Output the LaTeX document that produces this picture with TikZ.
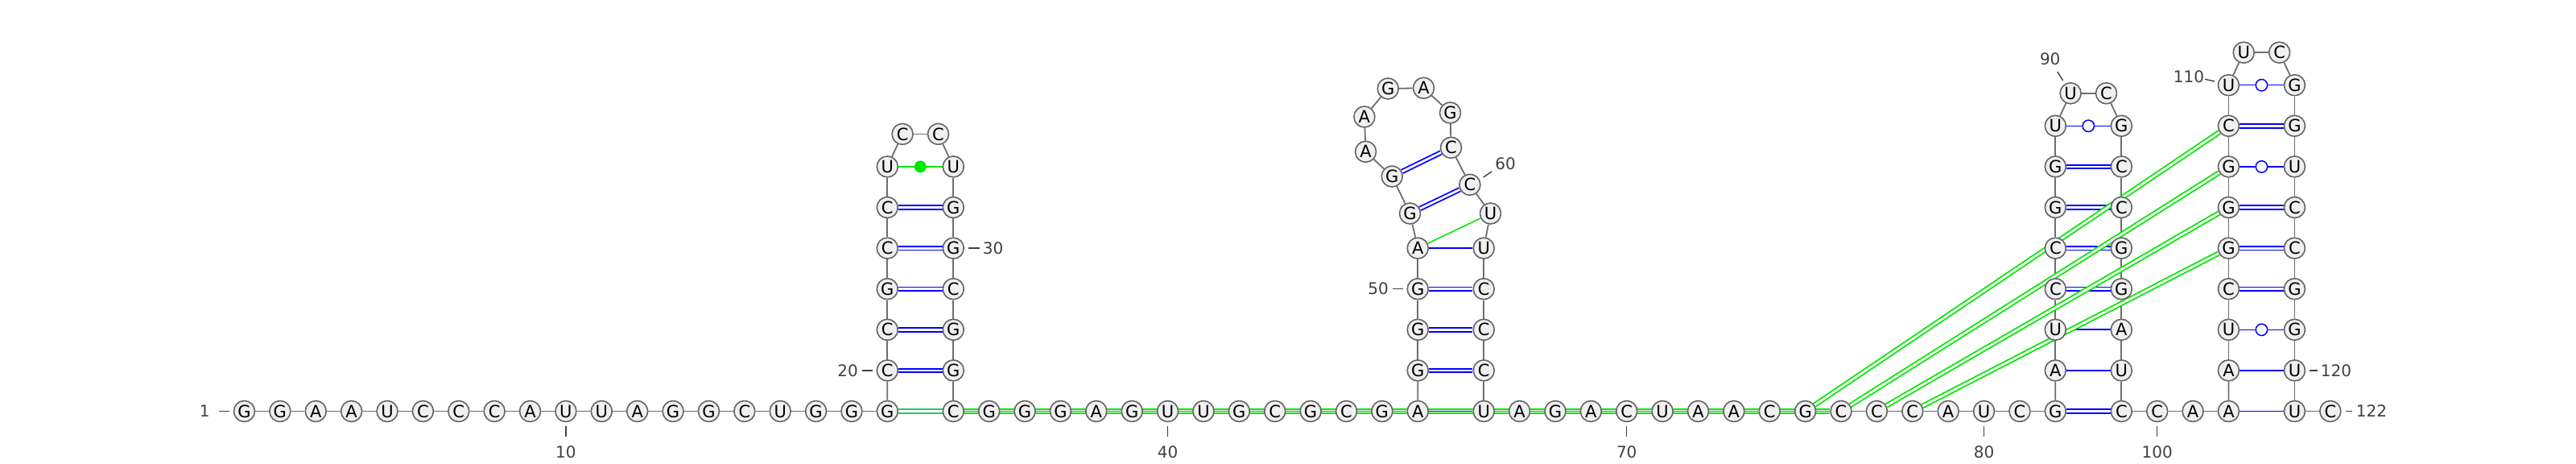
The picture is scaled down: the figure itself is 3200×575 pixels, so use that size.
\documentclass[tikz,border=0pt]{standalone}
\usepackage{fontspec}
\setmainfont{DejaVu Sans}
\pgfdeclarelayer{bg}
\pgfsetlayers{bg,main}
\definecolor{ntline}{RGB}{100,100,100}
\definecolor{ntfill}{RGB}{240,240,240}
\definecolor{bbgray}{RGB}{110,110,110}
\definecolor{lblgray}{RGB}{64,64,64}
\definecolor{pkgreen}{RGB}{0,232,0}
\definecolor{mixgreen}{RGB}{40,200,105}
\definecolor{pblue}{RGB}{0,0,255}
\tikzset{
  nt/.style={circle, draw=ntline, fill=ntfill, line width=0.8pt, minimum size=13pt, inner sep=0pt, font=\fontsize{10.5}{12}\selectfont},
  bb/.style={draw=bbgray, line width=0.9pt},
  wc/.style={draw=pblue, line width=0.9pt, double=white, double distance=1.4pt},
  wcmix/.style={draw=mixgreen, line width=0.9pt, double=white, double distance=1.4pt},
  au/.style={draw=pblue, line width=0.9pt},
  gu/.style={draw=pblue, line width=0.75pt},
  gucirc/.style={circle, draw=pblue, fill=white, line width=0.75pt, minimum size=7.2pt, inner sep=0pt},
  nc/.style={draw=pkgreen, line width=0.75pt},
  nccirc/.style={circle, fill=pkgreen, minimum size=7.5pt, inner sep=0pt},
  pk/.style={draw=pkgreen, line width=0.9pt, double=white, double distance=1.4pt},
  lbl/.style={text=lblgray, font=\fontsize{10}{12}\selectfont, inner sep=0pt},
  tick/.style={draw=lblgray, line width=0.7pt}
}
\begin{document}
\begin{tikzpicture}[x=0.5pt,y=-0.5pt]
\useasboundingbox (0,0) rectangle (3200,575);
% baseline 1..19
\foreach \i/\b in {1/G,2/G,3/A,4/A,5/U,6/C,7/C,8/C,9/A,10/U,11/U,12/A,13/G,14/G,15/C,16/U,17/G,18/G,19/G}
  \node[nt] (n\i) at ({303.5+(\i-1)*44.38},510.5) {\b};
% hairpin 1 left
\foreach \i/\b in {20/C,21/C,22/G,23/C,24/C,25/U}
  \node[nt] (n\i) at (1102.3,{510.5-(\i-19)*50.6}) {\b};
\node[nt] (n26) at (1121.1,166.4) {C};
\node[nt] (n27) at (1165.5,166.4) {C};
\foreach \i/\b in {28/U,29/G,30/G,31/C,32/G,33/G,34/C}
  \node[nt] (n\i) at (1184.3,{510.5-(34-\i)*50.6}) {\b};
% baseline 35..47
\foreach \i/\b in {35/G,36/G,37/G,38/A,39/G,40/U,41/U,42/G,43/C,44/G,45/C,46/G,47/A}
  \node[nt] (n\i) at ({1184.3+(\i-34)*44.38},510.5) {\b};
% hairpin 2
\foreach \i/\b in {48/G,49/G,50/G,51/A}
  \node[nt] (n\i) at (1761.2,{510.5-(\i-47)*50.6}) {\b};
\node[nt] (n52) at (1751.5,265) {G};
\node[nt] (n53) at (1729.2,219) {G};
\node[nt] (n54) at (1696.5,188.3) {A};
\node[nt] (n55) at (1694.9,145) {A};
\node[nt] (n56) at (1724.2,110) {G};
\node[nt] (n57) at (1768.5,109.3) {A};
\node[nt] (n58) at (1801.5,140) {G};
\node[nt] (n59) at (1802.5,183.3) {C};
\node[nt] (n60) at (1825.9,229.3) {C};
\node[nt] (n61) at (1851.5,265) {U};
\foreach \i/\b in {62/U,63/C,64/C,65/C,66/U}
  \node[nt] (n\i) at (1843.2,{510.5-(66-\i)*50.6}) {\b};
% baseline 67..82
\foreach \i/\b in {67/A,68/G,69/A,70/C,71/U,72/A,73/A,74/C,75/G,76/C,77/C,78/C,79/A,80/U,81/C,82/G}
  \node[nt] (n\i) at ({1843.2+(\i-66)*44.38},510.5) {\b};
% hairpin 3
\foreach \i/\b in {83/A,84/U,85/C,86/C,87/G,88/G,89/U}
  \node[nt] (n\i) at (2553.3,{510.5-(\i-82)*50.6}) {\b};
\node[nt] (n90) at (2572.1,115.8) {U};
\node[nt] (n91) at (2616.5,115.8) {C};
\foreach \i/\b in {92/G,93/C,94/C,95/G,96/G,97/A,98/U,99/C}
  \node[nt] (n\i) at (2635.3,{510.5-(99-\i)*50.6}) {\b};
\foreach \i/\b in {100/C,101/A,102/A}
  \node[nt] (n\i) at ({2635.3+(\i-99)*44.38},510.5) {\b};
% hairpin 4
\foreach \i/\b in {103/A,104/U,105/C,106/G,107/G,108/G,109/C,110/U}
  \node[nt] (n\i) at (2768.4,{510.5-(\i-102)*50.6}) {\b};
\node[nt] (n111) at (2787.2,65.2) {U};
\node[nt] (n112) at (2831.6,65.2) {C};
\foreach \i/\b in {113/G,114/G,115/U,116/C,117/C,118/G,119/G,120/U,121/U}
  \node[nt] (n\i) at (2850.4,{510.5-(121-\i)*50.6}) {\b};
\node[nt] (n122) at (2894.8,510.5) {C};

\begin{pgfonlayer}{bg}
  % long-range pair along the baseline
  \draw[pk] (n19) -- (n76);
  % helix pairs
  \draw[wcmix] (n19) -- (n34);
  \foreach \a/\b in {20/33,21/32,22/31,23/30,24/29,48/65,49/64,50/63,52/60,53/59,82/99,85/96,86/95,87/94,88/93,105/118,106/117,107/116,109/114}
    \draw[wc] (n\a) -- (n\b);
  \foreach \a/\b in {47/66,51/62,83/98,84/97,102/121,103/120}
    \draw[au] (n\a) -- (n\b);
  \foreach \a/\b in {89/92,104/119,108/115,110/113}
    \draw[gu] (n\a) -- node[gucirc]{} (n\b);
  \draw[nc] (n25) -- node[nccirc]{} (n28);
  \draw[nc] (n51) -- (n61);
  % backbone
  \foreach \i in {1,...,121}{\pgfmathtruncatemacro\j{\i+1}\draw[bb] (n\i) -- (n\j);}
  % pseudoknot pairs
  \foreach \a/\b in {75/109,76/108,77/107,78/106}
    \draw[pk] (n\a) -- (n\b);
\end{pgfonlayer}

% numbering
\node[lbl] (l1) at (254.2,510.5) {1};
\draw[tick] (271.8,510.5) -- (285.2,510.5);
\node[lbl] (l10) at (702.9,561.5) {10};
\draw[tick] (702.9,529) -- (702.9,542);
\node[lbl] (l20) at (1053,459.9) {20};
\draw[tick] (1070.6,459.9) -- (1084,459.9);
\node[lbl] (l30) at (1233.5,308.1) {30};
\draw[tick] (1203.3,308.1) -- (1216.7,308.1);
\node[lbl] (l40) at (1450.6,561.5) {40};
\draw[tick] (1450.6,529) -- (1450.6,542);
\node[lbl] (l50) at (1712,358.7) {50};
\draw[tick] (1729.5,358.7) -- (1742.9,358.7);
\node[lbl] (l60) at (1870,203.3) {60};
\draw[tick] (1842.7,220) -- (1853.3,212.7);
\node[lbl] (l70) at (2020.7,561.5) {70};
\draw[tick] (2020.7,529) -- (2020.7,542);
\node[lbl] (l80) at (2464.5,561.5) {80};
\draw[tick] (2464.5,529) -- (2464.5,542);
\node[lbl] (l90) at (2546.7,73.3) {90};
\draw[tick] (2555.7,89) -- (2562.7,100);
\node[lbl] (l100) at (2679.7,561.5) {100};
\draw[tick] (2679.7,529) -- (2679.7,542);
\node[lbl] (l110) at (2719,95) {110};
\draw[tick] (2739,98.3) -- (2751,101);
\node[lbl] (l120) at (2902,459.9) {120};
\draw[tick] (2869,459.9) -- (2879,459.9);
\node[lbl] (l122) at (2946,510.5) {122};
\draw[tick] (2913.5,510.5) -- (2922,510.5);
\end{tikzpicture}
\end{document}
